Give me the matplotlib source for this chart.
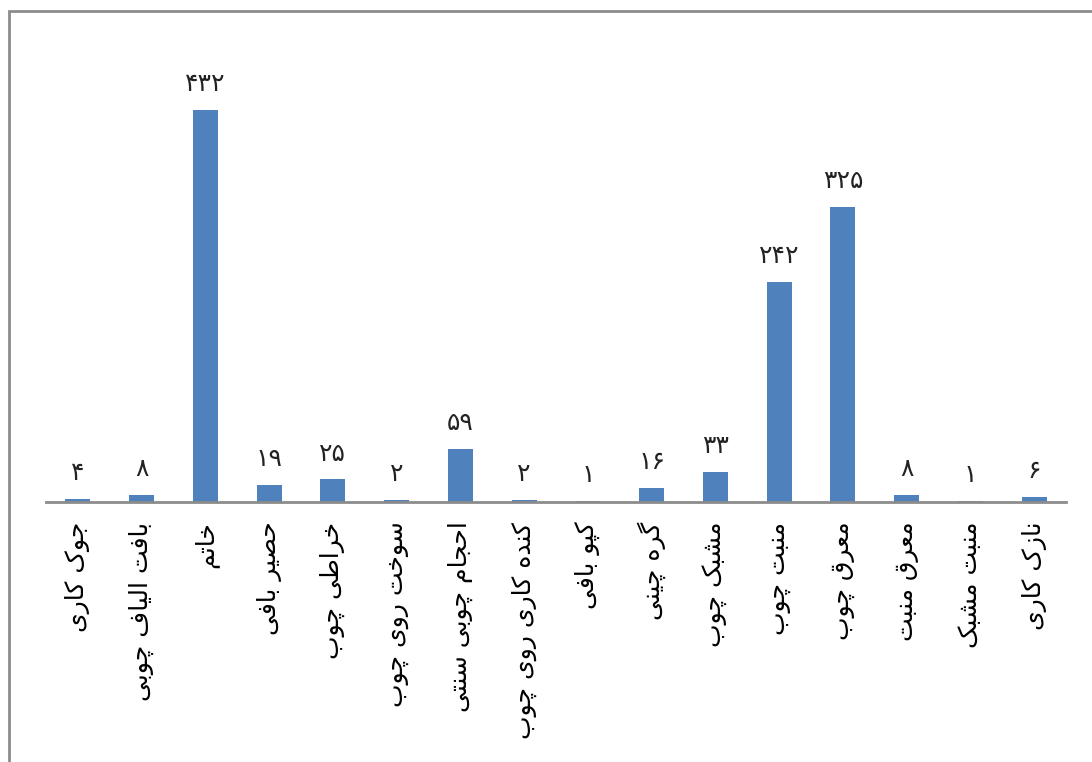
import matplotlib
matplotlib.use("Agg")
import matplotlib.pyplot as plt
from matplotlib.patches import Rectangle

# data
categories = ["جوک کاری", "بافت الیاف چوبی", "خاتم", "حصیر بافی", "خراطی چوب",
              "سوخت روی چوب", "احجام چوبی سنتی", "کنده کاری روی چوب", "کپو بافی",
              "گره چینی", "مشبک چوب", "منبت چوب", "معرق چوب", "معرق منبت",
              "منبت مشبک", "نازک کاری"]
values = [4, 8, 432, 19, 25, 2, 59, 2, 1, 16, 33, 242, 325, 8, 1, 6]

# matplotlib has no arabic shaping, so do it by hand with presentation forms
# (isolated, final, initial, medial); None in initial = does not join to the next letter
FORMS = {
    "ا": ("\uFE8D", "\uFE8E", None, None),
    "ب": ("\uFE8F", "\uFE90", "\uFE91", "\uFE92"),
    "ت": ("\uFE95", "\uFE96", "\uFE97", "\uFE98"),
    "ج": ("\uFE9D", "\uFE9E", "\uFE9F", "\uFEA0"),
    "ح": ("\uFEA1", "\uFEA2", "\uFEA3", "\uFEA4"),
    "خ": ("\uFEA5", "\uFEA6", "\uFEA7", "\uFEA8"),
    "د": ("\uFEA9", "\uFEAA", None, None),
    "ر": ("\uFEAD", "\uFEAE", None, None),
    "ز": ("\uFEAF", "\uFEB0", None, None),
    "س": ("\uFEB1", "\uFEB2", "\uFEB3", "\uFEB4"),
    "ش": ("\uFEB5", "\uFEB6", "\uFEB7", "\uFEB8"),
    "ص": ("\uFEB9", "\uFEBA", "\uFEBB", "\uFEBC"),
    "ط": ("\uFEC1", "\uFEC2", "\uFEC3", "\uFEC4"),
    "ع": ("\uFEC9", "\uFECA", "\uFECB", "\uFECC"),
    "ف": ("\uFED1", "\uFED2", "\uFED3", "\uFED4"),
    "ق": ("\uFED5", "\uFED6", "\uFED7", "\uFED8"),
    "ل": ("\uFEDD", "\uFEDE", "\uFEDF", "\uFEE0"),
    "م": ("\uFEE1", "\uFEE2", "\uFEE3", "\uFEE4"),
    "ن": ("\uFEE5", "\uFEE6", "\uFEE7", "\uFEE8"),
    "ه": ("\uFEE9", "\uFEEA", "\uFEEB", "\uFEEC"),
    "و": ("\uFEED", "\uFEEE", None, None),
    "پ": ("\uFB56", "\uFB57", "\uFB58", "\uFB59"),
    "چ": ("\uFB7A", "\uFB7B", "\uFB7C", "\uFB7D"),
    "ک": ("\uFB8E", "\uFB8F", "\uFB90", "\uFB91"),
    "گ": ("\uFB92", "\uFB93", "\uFB94", "\uFB95"),
    "ی": ("\uFBFC", "\uFBFD", "\uFBFE", "\uFBFF"),
}


def shape(s):
    out = []
    for i, c in enumerate(s):
        if c not in FORMS:
            out.append(c)
            continue
        prev = s[i - 1] if i > 0 else ""
        nxt = s[i + 1] if i + 1 < len(s) else ""
        jp = prev in FORMS and FORMS[prev][2] is not None
        jn = nxt in FORMS and FORMS[c][2] is not None
        f = FORMS[c]
        if jp and jn:
            out.append(f[3])
        elif jp:
            out.append(f[1])
        elif jn:
            out.append(f[2])
        else:
            out.append(f[0])
    return "".join(out)[::-1]


def fa_digits(n):
    return str(n).translate(str.maketrans("0123456789", "۰۱۲۳۴۵۶۷۸۹"))


plt.rcParams["font.family"] = ["DejaVu Sans"]

fig = plt.figure(figsize=(10.92, 7.62), dpi=100)
ax = fig.add_axes([0.0421, 0.341, 0.9341, 0.596])

x = range(len(categories))
bars = ax.bar(x, values, width=0.39, color="#4F81BD", zorder=2)
ax.bar_label(bars, labels=[fa_digits(v) for v in values], padding=10, fontsize=18,
             color="#222222")

ax.set_xlim(-0.5, len(categories) - 0.5)
ax.set_ylim(0, 500)
ax.set_xticks(list(x))
ax.set_xticklabels([shape(c) for c in categories], rotation=90, fontsize=18,
                   color="black", va="top", ha="center")
ax.tick_params(axis="x", length=0, pad=14)
ax.set_yticks([])
for side in ["top", "left", "right"]:
    ax.spines[side].set_visible(False)
ax.spines["bottom"].set_color("#8c8c8c")
ax.spines["bottom"].set_linewidth(2)

# outer chart border, runs off the right and bottom edges
fig.patches.append(Rectangle((9 / 1092, -0.1), 1.2, 0.1 + (762 - 11) / 762,
                             transform=fig.transFigure, fill=False,
                             edgecolor="#8c8c8c", linewidth=2))

fig.savefig("out.png", dpi=100)
